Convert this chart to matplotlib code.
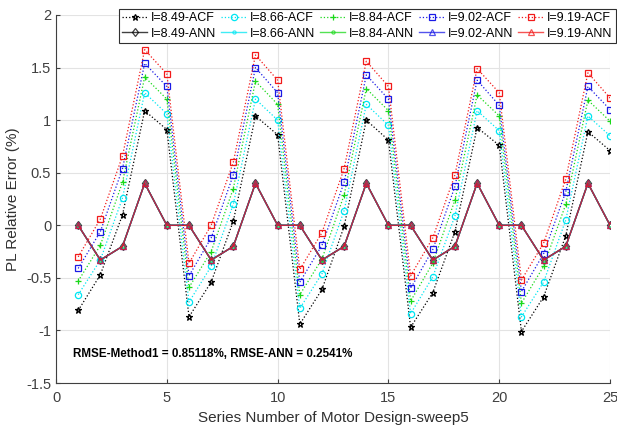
#!/usr/bin/python3
# coding: utf-8

import matplotlib
matplotlib.use('Agg')
import matplotlib.pyplot as plt
import numpy as np

# series number of motor design
design = list(range(1, 26))

# PL relative error (%) computed with ACF method, one list per current
acf_849 = [-0.81, -0.47, 0.10, 1.09, 0.91, -0.87, -0.54, 0.04, 1.04, 0.86,
           -0.94, -0.61, -0.01, 1.00, 0.81, -0.97, -0.64, -0.06, 0.93, 0.76,
           -1.01, -0.68, -0.10, 0.89, 0.71]
acf_866 = [-0.66, -0.33, 0.26, 1.26, 1.06, -0.73, -0.39, 0.20, 1.20, 1.00,
           -0.79, -0.46, 0.14, 1.15, 0.95, -0.84, -0.49, 0.09, 1.09, 0.90,
           -0.87, -0.54, 0.05, 1.04, 0.85]
acf_884 = [-0.53, -0.19, 0.41, 1.41, 1.20, -0.59, -0.25, 0.35, 1.37, 1.15,
           -0.66, -0.32, 0.29, 1.30, 1.09, -0.72, -0.36, 0.24, 1.24, 1.04,
           -0.74, -0.39, 0.20, 1.19, 0.99]
acf_902 = [-0.41, -0.06, 0.54, 1.54, 1.32, -0.48, -0.12, 0.48, 1.50, 1.26,
           -0.54, -0.19, 0.41, 1.43, 1.20, -0.60, -0.23, 0.37, 1.38, 1.14,
           -0.63, -0.27, 0.32, 1.32, 1.10]
acf_919 = [-0.30, 0.06, 0.66, 1.67, 1.44, -0.36, 0.00, 0.60, 1.62, 1.38,
           -0.42, -0.07, 0.54, 1.56, 1.32, -0.48, -0.12, 0.48, 1.49, 1.26,
           -0.52, -0.17, 0.44, 1.45, 1.21]

# PL relative error (%) predicted by the ANN, one list per current
ann_849 = [0.00, -0.33, -0.20, 0.40, 0.00] * 5
ann_866 = [0.00, -0.33, -0.20, 0.40, 0.00] * 5
ann_884 = [0.00, -0.33, -0.20, 0.40, 0.00] * 5
ann_902 = [0.00, -0.33, -0.20, 0.40, 0.00] * 5
ann_919 = [0.00, -0.33, -0.20, 0.40, 0.00] * 5

currents = ['8.49', '8.66', '8.84', '9.02', '9.19']
rmse_text = 'RMSE-Method1 = 0.85118%, RMSE-ANN = 0.2541%'


def main():
    plt.rcParams['font.family'] = ['Liberation Sans', 'DejaVu Sans']
    plt.rcParams['font.size'] = 10

    fig = plt.figure(figsize=(6.17, 4.28), dpi=100)
    ax = fig.add_axes([0.0908, 0.105, 0.898, 0.86])

    acf_all = [acf_849, acf_866, acf_884, acf_902, acf_919]
    ann_all = [ann_849, ann_866, ann_884, ann_902, ann_919]
    colors = ['k', (0.0, 0.9, 0.95), (0.1, 0.85, 0.1), (0.1, 0.1, 0.9), (0.95, 0.1, 0.1)]
    acf_markers = ['*', 'o', '+', 's', 's']
    ann_markers = ['d', '.', '.', '^', '^']

    handles = []
    for i, cur in enumerate(currents):
        h1, = ax.plot(design, acf_all[i], ls=':', lw=0.9, color=colors[i],
                      marker=acf_markers[i], ms=4.5, mfc='none', mew=0.9,
                      label=f'I={cur}-ACF')
        h2, = ax.plot(design, ann_all[i], ls='-', lw=1.0, color=colors[i],
                      marker=ann_markers[i], ms=4.5, mfc='none', mew=0.9,
                      alpha=0.75, label=f'I={cur}-ANN')
        handles += [h1, h2]

    ax.set_xlim(0, 25)
    ax.set_ylim(-1.5, 2)
    ax.set_xticks(np.arange(0, 26, 5))
    ax.set_yticks(np.arange(-1.5, 2.01, 0.5))
    ax.set_yticklabels(['-1.5', '-1', '-0.5', '0', '0.5', '1', '1.5', '2'])
    ax.grid(True, color='#e3e3e3', lw=0.8)
    ax.set_axisbelow(True)
    for s in ['top', 'right']:
        ax.spines[s].set_visible(False)
    ax.tick_params(direction='in', length=3, colors='#404040', labelsize=10.5)
    ax.tick_params(axis='x', pad=6)
    for s in ['left', 'bottom']:
        ax.spines[s].set_color('#404040')

    ax.set_xlabel('Series Number of Motor Design-sweep5', fontsize=11, color='#303030')
    ax.set_ylabel('PL Relative Error (%)', fontsize=11, color='#303030')

    ax.text(0.77, -1.22, rmse_text, fontsize=8.4, fontweight='bold', va='center')

    leg = ax.legend(handles=handles, ncol=5, loc='upper left',
                    bbox_to_anchor=(0.113, 1.017), fontsize=9,
                    handlelength=2.0, handletextpad=0.3, columnspacing=0.4,
                    borderpad=0.3, labelspacing=0.25, fancybox=False,
                    framealpha=1, edgecolor='#303030', borderaxespad=0)
    leg.get_frame().set_linewidth(0.8)

    fig.savefig('out.png', dpi=100)


if __name__ == '__main__':
    main()
